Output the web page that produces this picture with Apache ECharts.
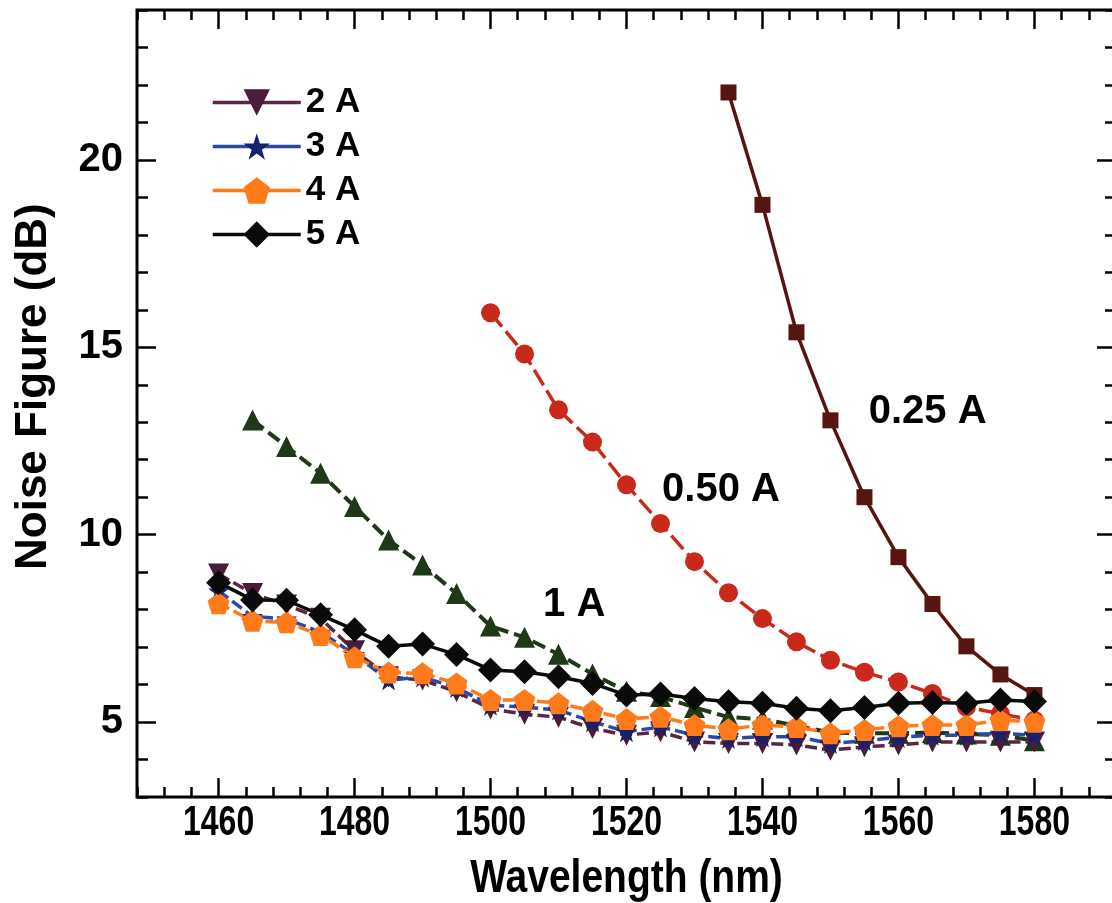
<!DOCTYPE html>
<html><head><meta charset="utf-8">
<script src="https://cdn.jsdelivr.net/npm/echarts@6/dist/echarts.min.js"></script>
<style>html,body{margin:0;padding:0;overflow:hidden;background:#fff}#c{width:1116px;height:903px}</style>
</head><body><div id="c"></div>
<script>
// ---- data ----
const wavelength = [1460,1465,1470,1475,1480,1485,1490,1495,1500,1505,1510,1515,1520,1525,1530,1535,1540,1545,1550,1555,1560,1565,1570,1575,1580];
const nf_025A = [null,null,null,null,null,null,null,null,null,null,null,null,null,null,null,21.8,18.8,15.4,13.05,11.0,9.4,8.15,7.02,6.27,5.72];
const nf_050A = [null,null,null,null,null,null,null,null,15.92,14.82,13.33,12.47,11.33,10.3,9.28,8.45,7.76,7.14,6.65,6.33,6.07,5.76,5.4,5.22,5.05];
const nf_1A = [null,13.06,12.35,11.64,10.75,9.86,9.19,8.43,7.56,7.26,6.81,6.28,5.82,5.68,5.39,5.13,5.08,4.9,4.72,4.7,4.7,4.72,4.68,4.65,4.5];
const nf_2A = [8.95,8.43,8.12,7.77,6.9,6.21,6.12,5.81,5.35,5.21,5.13,4.83,4.65,4.74,4.47,4.43,4.43,4.39,4.25,4.34,4.39,4.47,4.47,4.47,4.47];
const nf_3A = [8.5,7.82,7.75,7.4,6.8,6.12,6.2,5.92,5.45,5.4,5.32,5.01,4.74,4.87,4.65,4.56,4.61,4.61,4.43,4.5,4.59,4.65,4.65,4.7,4.65];
const nf_4A = [8.17,7.7,7.66,7.32,6.73,6.32,6.3,6.03,5.59,5.59,5.5,5.3,5.08,5.14,4.92,4.81,4.92,4.87,4.7,4.79,4.89,4.92,4.92,5.05,5.01];
const nf_5A = [8.72,8.26,8.25,7.86,7.46,7.02,7.08,6.8,6.39,6.34,6.21,6.03,5.72,5.75,5.63,5.54,5.5,5.37,5.3,5.39,5.5,5.52,5.5,5.59,5.55];
const seriesNames = ['0.25 A','0.50 A','1 A','2 A','3 A','4 A','5 A'];
const xTickLabels = [1460,1480,1500,1520,1540,1560,1580];
const yTickLabels = [5,10,15,20];
const xTitle = 'Wavelength (nm)';
const yTitle = 'Noise Figure (dB)';

// ---- helpers ----
function pairs(vals){ return wavelength.map((w,i)=>[w,vals[i]]).filter(p=>p[1]!==null); }
const FF = '"Liberation Sans", Arial, Helvetica, sans-serif';
const STAR = 'path://M50,0 L61.8,35.1 L98.9,35.1 L68.9,56.9 L80.3,91.9 L50,70.2 L19.7,91.9 L31.1,56.9 L1.1,35.1 L38.2,35.1 Z';
const PENT = 'path://M50,0 L97.6,34.5 L79.4,90.5 L20.6,90.5 L2.4,34.5 Z';
const tickLS = {color:'#000', width:2.5};

function xAx(pos, major){
  const a = {type:'value', min:1448, max:1592, position:pos, interval:4,
    axisLine:{show:false}, splitLine:{show:false},
    axisTick:{inside:true, length: major?19:10, lineStyle:tickLS},
    axisLabel:{show:false}};
  if (major) a.axisTick.customValues = xTickLabels;
  return a;
}
function yAx(pos, major, withLabel){
  const a = {type:'value', min:3, max:24, position:pos, interval:1,
    axisLine:{show:false}, splitLine:{show:false},
    axisTick:{inside:true, length: major?19:11, lineStyle:tickLS},
    axisLabel:{show:false}};
  if (major) a.axisTick.customValues = yTickLabels;
  if (withLabel){
    a.axisLabel = {show:true, customValues:yTickLabels, margin:14, fontSize:40, fontWeight:'bold', color:'#000', fontFamily:FF};
  }
  return a;
}
function annot(text, coord){
  return {symbol:'circle', symbolSize:1, itemStyle:{color:'rgba(0,0,0,0)'},
    label:{show:true, position:'inside', formatter:text, fontSize:40, fontWeight:'bold', color:'#000', fontFamily:FF},
    data:[{coord:coord}]};
}
function mk(name, vals, symbol, size, color, lineColor, lineType, lineWidth, extra){
  return Object.assign({name:name, type:'line', data:pairs(vals), symbol:symbol, symbolSize:size,
    xAxisIndex:0, yAxisIndex:0,
    itemStyle:{color:color, borderWidth:0},
    lineStyle:{color:lineColor, type:lineType, width:lineWidth},
    emphasis:{disabled:true}}, extra||{});
}

const chart = echarts.init(document.getElementById('c'));
chart.setOption({
  animation:false,
  backgroundColor:'#fff',
  grid:{left:137, right:0, top:10, bottom:106, show:true, borderColor:'#000', borderWidth:3, backgroundColor:'transparent', containLabel:false, outerBoundsMode:'none'},
  xAxis:[xAx('bottom',false), xAx('bottom',true), xAx('top',false), xAx('top',true)],
  yAxis:[yAx('left',false,true), yAx('left',true,false), yAx('right',false,false), yAx('right',true,false)],
  legend:{data:['2 A','3 A','4 A','5 A'], orient:'vertical', left:206, top:80, itemWidth:88, itemHeight:33, itemGap:9,
    lineStyle:{type:'solid', width:3.5},
    textStyle:{fontSize:35, lineHeight:32, fontWeight:'bold', color:'#000', fontFamily:FF, padding:[0,0,0,0]}, selectedMode:false},
  series:[
    mk(seriesNames[0], nf_025A, 'rect', 16, '#561510', '#561510', 'solid', 3.5, {markPoint:annot('0.25 A',[1564.3,13.27])}),
    mk(seriesNames[1], nf_050A, 'circle', 19, '#c9281a', '#c9281a', [18,6], 3.5, {markPoint:annot('0.50 A',[1533.9,11.19])}),
    mk(seriesNames[2], nf_1A, 'triangle', 21, '#1e3818', '#1e3818', [14,6], 4, {markPoint:annot('1 A',[1512.3,8.12])}),
    mk(seriesNames[3], nf_2A, 'triangle', 21, '#4a1c3a', '#5a2646', [12,5], 3.5, {symbolRotate:180}),
    mk(seriesNames[4], nf_3A, STAR, 21, '#15206e', '#2a48a6', [12,5], 3.5),
    mk(seriesNames[5], nf_4A, PENT, 22, '#ff7a1a', '#ff7a1a', [12,5], 3.5),
    mk(seriesNames[6], nf_5A, 'diamond', 25, '#0a0a0a', '#0a0a0a', 'solid', 3.5)
  ]
});

// axis texts placed through the axis scales
const px = v => chart.convertToPixel({xAxisIndex:0}, v);
const py = v => chart.convertToPixel({yAxisIndex:0}, v);
const gridBottom = py(3);
const g = xTickLabels.map(v => ({
  type:'text', x: px(v), y: gridBottom + 27, scaleY:1.3, silent:true,
  style:{text:String(v), fill:'#000', font:'bold 32px ' + FF, align:'center', verticalAlign:'middle', textAlign:'center', textVerticalAlign:'middle'}
}));
g.push({type:'text', x: (px(1448) + px(1592)) / 2, y: gridBottom + 82, scaleY:1.2, silent:true,
  style:{text:xTitle, fill:'#000', font:'bold 39px ' + FF, align:'center', verticalAlign:'middle', textAlign:'center', textVerticalAlign:'middle'}});
g.push({type:'text', x: 34, y: py(13.95), rotation: Math.PI/2, silent:true,
  style:{text:yTitle, fill:'#000', font:'bold 44px ' + FF, align:'center', verticalAlign:'middle', textAlign:'center', textVerticalAlign:'middle'}});
chart.setOption({graphic:g});
</script>
</body></html>
